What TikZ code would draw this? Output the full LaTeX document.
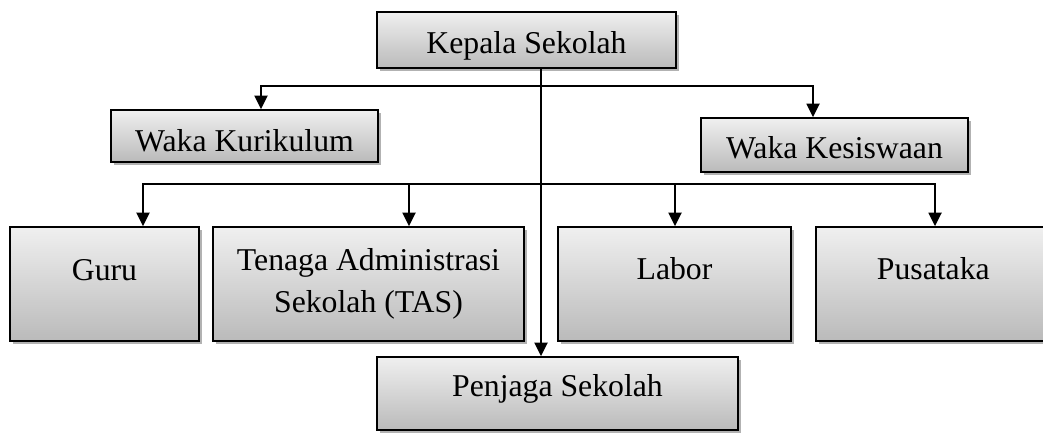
\documentclass[tikz,border=0pt]{standalone}
\usepackage{fontspec}
\setmainfont{Liberation Serif}
\usetikzlibrary{arrows.meta,shadows}
\begin{document}
\begin{tikzpicture}[x=0.75pt,y=-0.75pt,
  box/.style={draw=black, line width=1.4pt, shading=axis, top color=black!6, bottom color=black!27,
    inner sep=0pt, font=\fontsize{23.8}{31.3}\selectfont,
    drop shadow={shadow xshift=2.2pt, shadow yshift=-2.2pt, fill=black, opacity=0.3}},
  arr/.style={line width=1.4pt, -{Triangle[width=9.75pt,length=10pt]}}]
\useasboundingbox (0,0) rectangle (1043,433);
\fill[white] (0,0) rectangle (1043,433);
\clip (0,0) rectangle (1043,433);
\node[box, minimum width=224.25pt, minimum height=42pt, text height=19.5pt, text depth=0pt] (kepala) at (526.5,40) {Kepala Sekolah};
\node[box, minimum width=200.25pt, minimum height=39pt, text height=22.5pt, text depth=0pt] (wk) at (244.5,136) {Waka Kurikulum};
\node[box, minimum width=200.25pt, minimum height=40.5pt, text height=19.5pt, text depth=0pt] (wks) at (834.5,145) {Waka Kesiswaan};
\node[box, minimum width=141.75pt, minimum height=85.5pt, text height=0pt, text depth=6pt] (guru) at (104.5,284) {Guru};
\node[box, minimum width=233.25pt, minimum height=85.5pt, align=center] (tas) at (368.5,284) {Tenaga Administrasi\\Sekolah (TAS)};
\node[box, minimum width=174.75pt, minimum height=85.5pt, text height=0pt, text depth=7.5pt] (labor) at (674.5,284) {Labor};
\node[box, minimum width=176pt, minimum height=85.5pt, text height=0pt, text depth=7.5pt] (pus) at (933.3,284) {Pusataka};
\node[box, minimum width=270.75pt, minimum height=54.75pt, text height=4.5pt, text depth=0pt] (penjaga) at (557.5,393.5) {Penjaga Sekolah};
\coordinate (j1) at (541,86);
\coordinate (a1) at (261,86);
\coordinate (a2) at (813,86);
\coordinate (j2) at (541,184);
\coordinate (hl) at (143,184);
\coordinate (hr) at (935,184);
\coordinate (b2) at (409,184);
\coordinate (b3) at (675,184);
\draw[arr] (kepala.south -| j1) -- (penjaga.north -| j1);
\draw[arr] (j1) -| (wk.north -| a1);
\draw[arr] (j1) -| (wks.north -| a2);
\draw[arr] (j2) -| (guru.north -| hl);
\draw[arr] (j2) -| (pus.north -| hr);
\draw[arr] (b2) -- (tas.north -| b2);
\draw[arr] (b3) -- (labor.north -| b3);
\end{tikzpicture}
\end{document}
